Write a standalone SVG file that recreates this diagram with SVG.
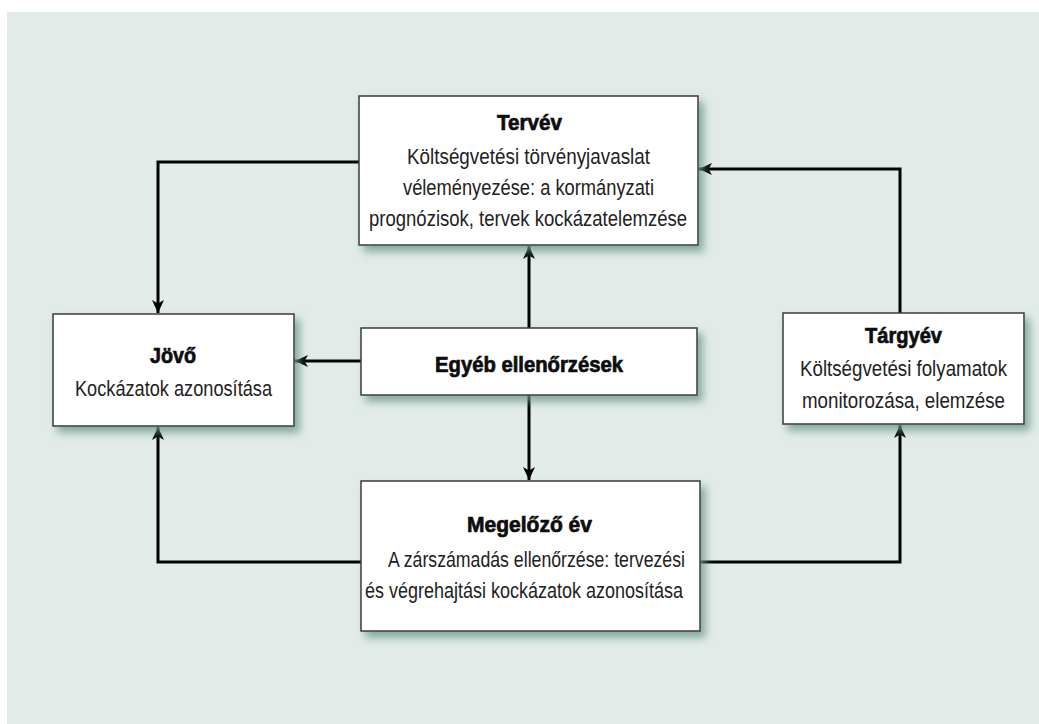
<svg xmlns="http://www.w3.org/2000/svg" width="1039" height="724" viewBox="0 0 1039 724">
  <style>
    .box { fill: #ffffff; stroke: #3a3a3a; stroke-width: 1.5; filter: url(#shadow); }
    .title { font-family: "Liberation Sans Narrow", "Liberation Sans", Arial, sans-serif; font-weight: bold; font-size: 22px; fill: #0d0d0d; stroke: #0d0d0d; stroke-width: 0.7; }
    .body { font-family: "Liberation Sans Narrow", "Liberation Sans", Arial, sans-serif; font-size: 22px; fill: #222222; }
    .mid { text-anchor: middle; }
    .link { fill: none; stroke: #000000; stroke-width: 3; marker-end: url(#arrow); }
  </style>
  <defs>
    <filter id="shadow" x="-10%" y="-10%" width="130%" height="140%">
      <feDropShadow dx="5" dy="6" stdDeviation="4" flood-color="#6a9a88" flood-opacity="0.8"/>
    </filter>
    <marker id="arrow" markerUnits="userSpaceOnUse" markerWidth="14" markerHeight="12" refX="13" refY="6" orient="auto">
      <path d="M0,0 L13,6 L0,12 L3.5,6 Z" fill="#000000"/>
    </marker>
  </defs>

  <!-- panel -->
  <rect x="7" y="12" width="1032" height="712" fill="#e2ebe7"/>

  <!-- connectors -->
  <g id="connectors">
    <path class="link" d="M359,162 H158 V313"/>
    <path class="link" d="M900,313 V169 H699"/>
    <path class="link" d="M361,361 H295"/>
    <path class="link" d="M529,328 V246"/>
    <path class="link" d="M529,395 V480"/>
    <path class="link" d="M361,562 H158 V427"/>
    <path class="link" d="M700,562 H900 V425"/>
  </g>

  <!-- Tervév -->
  <g id="terv">
    <rect class="box" x="359" y="96" width="339" height="149"/>
    <text class="title" x="497" y="130" textLength="65" lengthAdjust="spacingAndGlyphs">Tervév</text>
    <text class="body" x="407" y="164" textLength="243" lengthAdjust="spacingAndGlyphs">Költségvetési törvényjavaslat</text>
    <text class="body" x="403" y="195" textLength="251" lengthAdjust="spacingAndGlyphs">véleményezése: a kormányzati</text>
    <text class="body" x="369" y="226" textLength="318" lengthAdjust="spacingAndGlyphs">prognózisok, tervek kockázatelemzése</text>
  </g>

  <!-- Jövő -->
  <g id="jovo">
    <rect class="box" x="53" y="314" width="241" height="112"/>
    <text class="title" x="150" y="363" textLength="46" lengthAdjust="spacingAndGlyphs">Jövő</text>
    <text class="body" x="75" y="396" textLength="197" lengthAdjust="spacingAndGlyphs">Kockázatok azonosítása</text>
  </g>

  <!-- Egyéb ellenőrzések -->
  <g id="egyeb">
    <rect class="box" x="361" y="328" width="336" height="67"/>
    <text class="title" x="435" y="372" textLength="188" lengthAdjust="spacingAndGlyphs">Egyéb ellenőrzések</text>
  </g>

  <!-- Tárgyév -->
  <g id="targyev">
    <rect class="box" x="783" y="313" width="241" height="111"/>
    <text class="title mid" x="903.5" y="343" textLength="77" lengthAdjust="spacingAndGlyphs">Tárgyév</text>
    <text class="body mid" x="903.5" y="376" font-size="20.5" textLength="207" lengthAdjust="spacingAndGlyphs">Költségvetési folyamatok</text>
    <text class="body mid" x="903.5" y="408" textLength="203" lengthAdjust="spacingAndGlyphs">monitorozása, elemzése</text>
  </g>

  <!-- Megelőző év -->
  <g id="megelozo">
    <rect class="box" x="361" y="481" width="339" height="150"/>
    <text class="title" x="467" y="532" textLength="125" lengthAdjust="spacingAndGlyphs">Megelőző év</text>
    <text class="body" x="388" y="567" textLength="297" lengthAdjust="spacingAndGlyphs">A zárszámadás ellenőrzése: tervezési</text>
    <text class="body" x="365" y="598" textLength="318" lengthAdjust="spacingAndGlyphs">és végrehajtási kockázatok azonosítása</text>
  </g>
</svg>
